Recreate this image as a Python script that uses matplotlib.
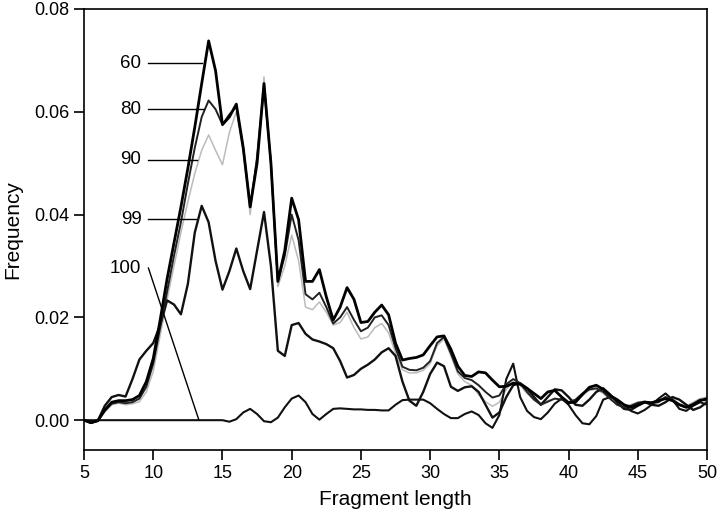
import numpy as np
import matplotlib
matplotlib.use("Agg")
import matplotlib.pyplot as plt

plt.rcParams["font.family"] = ["Liberation Sans", "DejaVu Sans"]

# fragment length grid (0.5 steps, 5..50)
x = np.arange(5.0, 50.01, 0.5)

freq_60 = [
    0.0, -0.0005, -0.0001, 0.0020, 0.0035, 0.0038, 0.0038, 0.0040, 0.0048, 0.0075,
    0.0120, 0.0195, 0.0275, 0.0345, 0.0415, 0.0490, 0.0570, 0.0655, 0.0738, 0.0680,
    0.0575, 0.0590, 0.0615, 0.0530, 0.0415, 0.0500, 0.0655, 0.0500, 0.0270, 0.0330,
    0.0432, 0.0390, 0.0270, 0.0270, 0.0293, 0.0240, 0.0195, 0.0220, 0.0258, 0.0235,
    0.0190, 0.0192, 0.0210, 0.0224, 0.0205, 0.0150, 0.0117, 0.0120, 0.0122, 0.0127,
    0.0145, 0.0162, 0.0164, 0.0138, 0.0105, 0.0087, 0.0085, 0.0094, 0.0092, 0.0078,
    0.0065, 0.0066, 0.0072, 0.0070, 0.0062, 0.0052, 0.0042, 0.0055, 0.0058, 0.0045,
    0.0034, 0.0035, 0.0050, 0.0064, 0.0068, 0.0060, 0.0048, 0.0040, 0.0030, 0.0025,
    0.0030, 0.0035, 0.0034, 0.0038, 0.0042, 0.0038, 0.0030, 0.0025, 0.0030, 0.0038,
    0.0042,
]

freq_80 = [
    0.0, -0.0005, -0.0001, 0.0018, 0.0032, 0.0035, 0.0033, 0.0035, 0.0042, 0.0065,
    0.0110, 0.0180, 0.0250, 0.0320, 0.0385, 0.0460, 0.0530, 0.0590, 0.0622, 0.0605,
    0.0575, 0.0595, 0.0610, 0.0530, 0.0415, 0.0510, 0.0650, 0.0500, 0.0270, 0.0320,
    0.0400, 0.0350, 0.0245, 0.0235, 0.0248, 0.0220, 0.0188, 0.0200, 0.0220, 0.0195,
    0.0173, 0.0180, 0.0200, 0.0204, 0.0185, 0.0140, 0.0104, 0.0098, 0.0097, 0.0102,
    0.0115, 0.0150, 0.0162, 0.0130, 0.0095, 0.0082, 0.0078, 0.0068, 0.0055, 0.0044,
    0.0048, 0.0070, 0.0080, 0.0072, 0.0055, 0.0040, 0.0030, 0.0036, 0.0042, 0.0040,
    0.0035, 0.0040, 0.0052, 0.0060, 0.0062, 0.0055, 0.0042, 0.0030, 0.0025, 0.0028,
    0.0034, 0.0036, 0.0033, 0.0035, 0.0045, 0.0040, 0.0030, 0.0025, 0.0032, 0.0040,
    0.0038,
]

freq_90 = [
    0.0, -0.0005, -0.0001, 0.0016, 0.0030, 0.0033, 0.0030, 0.0032, 0.0036, 0.0055,
    0.0095, 0.0165, 0.0235, 0.0300, 0.0365, 0.0425, 0.0480, 0.0525, 0.0555, 0.0525,
    0.0497, 0.0560, 0.0600, 0.0520, 0.0400, 0.0520, 0.0668, 0.0500, 0.0260, 0.0300,
    0.0360, 0.0310, 0.0220, 0.0215, 0.0230, 0.0210, 0.0185, 0.0190, 0.0210, 0.0180,
    0.0158, 0.0162, 0.0180, 0.0188, 0.0170, 0.0130, 0.0098, 0.0092, 0.0092, 0.0097,
    0.0110, 0.0145, 0.0158, 0.0125, 0.0090, 0.0075, 0.0068, 0.0050, 0.0036, 0.0027,
    0.0035, 0.0060, 0.0075, 0.0068, 0.0052, 0.0040, 0.0033, 0.0038, 0.0042, 0.0040,
    0.0035, 0.0038, 0.0048, 0.0058, 0.0060, 0.0052, 0.0040, 0.0032, 0.0028, 0.0030,
    0.0035, 0.0037, 0.0035, 0.0037, 0.0046, 0.0042, 0.0032, 0.0028, 0.0035, 0.0042,
    0.0045,
]

freq_99 = [
    0.0, -0.0005, -0.0001, 0.0028, 0.0045, 0.0049, 0.0046, 0.0080, 0.0118, 0.0135,
    0.0150, 0.0185, 0.0233, 0.0225, 0.0206, 0.0265, 0.0365, 0.0417, 0.0385, 0.0310,
    0.0254, 0.0290, 0.0334, 0.0290, 0.0255, 0.0330, 0.0405, 0.0300, 0.0135, 0.0125,
    0.0185, 0.0189, 0.0168, 0.0157, 0.0153, 0.0148, 0.0140, 0.0115, 0.0083, 0.0088,
    0.0100, 0.0108, 0.0118, 0.0132, 0.0140, 0.0125, 0.0075, 0.0038, 0.0028, 0.0055,
    0.0090, 0.0112, 0.0105, 0.0065, 0.0057, 0.0064, 0.0066, 0.0055, 0.0030, 0.0005,
    0.0015, 0.0045, 0.0068, 0.0072, 0.0062, 0.0045, 0.0030, 0.0045, 0.0060, 0.0058,
    0.0045, 0.0030, 0.0028, 0.0040, 0.0055, 0.0062, 0.0050, 0.0035, 0.0022, 0.0020,
    0.0028, 0.0035, 0.0030, 0.0028, 0.0035, 0.0045, 0.0040, 0.0030, 0.0020, 0.0025,
    0.0035,
]

freq_100 = [
    0.0, 0.0, 0.0, 0.0, 0.0, 0.0, 0.0, 0.0, 0.0, 0.0,
    0.0, 0.0, 0.0, 0.0, 0.0, 0.0, 0.0, 0.0, 0.0, 0.0,
    0.0, -0.0003, 0.0002, 0.0015, 0.0022, 0.0012, -0.0002, -0.0004, 0.0005, 0.0025,
    0.0042, 0.0048, 0.0035, 0.0012, 0.0001, 0.0012, 0.0022, 0.0023, 0.0022, 0.0021,
    0.0021, 0.0020, 0.0020, 0.0019, 0.0019, 0.0030, 0.0039, 0.0040, 0.0040, 0.0040,
    0.0033, 0.0022, 0.0012, 0.0004, 0.0004, 0.0012, 0.0017, 0.0010, -0.0006, -0.0015,
    0.0010, 0.0080, 0.0110, 0.0045, 0.0018, 0.0006, 0.0002, 0.0015, 0.0032, 0.0042,
    0.0030, 0.0010, -0.0006, -0.0008, 0.0008, 0.0040, 0.0045, 0.0040, 0.0030, 0.0018,
    0.0013, 0.0020, 0.0030, 0.0042, 0.0052, 0.0040, 0.0022, 0.0018, 0.0028, 0.0035,
    0.0030,
]

# label text, text y, leader line end (x, y)
labels = ["60", "80", "90", "99", "100"]
label_y = [0.0694, 0.0605, 0.0507, 0.0391, 0.0296]
leader_end = [(13.53, 0.0694), (13.65, 0.0605), (13.18, 0.0507), (13.06, 0.0391), (13.3, 0.0)]


def main() -> None:
    fig = plt.figure(figsize=(7.2, 5.23), dpi=100)
    ax = fig.add_axes([0.1167, 0.1396, 0.8653, 0.8432])

    kw = dict(solid_joinstyle="round", solid_capstyle="round")
    ax.plot(x, freq_90, color="#bbbbbb", lw=1.1, zorder=2, **kw)
    ax.plot(x, freq_100, color="#111111", lw=1.5, zorder=3, **kw)
    ax.plot(x, freq_99, color="#111111", lw=1.7, zorder=3, **kw)
    ax.plot(x, freq_80, color="#222222", lw=1.4, zorder=4, **kw)
    ax.plot(x, freq_60, color="#000000", lw=2.0, zorder=5, **kw)

    for lab, ly, (ex, ey) in zip(labels, label_y, leader_end):
        ax.text(9.15, ly, lab, ha="right", va="center", fontsize=13.5)
        ax.plot([9.65, ex], [ly, ey], color="black", lw=1.0, zorder=6)

    ax.set_xlim(5, 50)
    ax.set_ylim(-0.0058, 0.08)
    ax.set_xticks(np.arange(5, 51, 5))
    ax.set_yticks([0.0, 0.02, 0.04, 0.06, 0.08])
    ax.set_yticklabels(["0.00", "0.02", "0.04", "0.06", "0.08"])
    ax.tick_params(direction="out", length=7, width=1.2, labelsize=13)
    for s in ax.spines.values():
        s.set_linewidth(1.2)

    ax.set_xlabel("Fragment length", fontsize=15, va="center")
    ax.set_ylabel("Frequency", fontsize=15, va="center")
    ax.xaxis.set_label_coords(0.5, -0.113)
    ax.yaxis.set_label_coords(-0.114, 0.5)

    fig.savefig("out.png", dpi=100)


if __name__ == "__main__":
    main()
